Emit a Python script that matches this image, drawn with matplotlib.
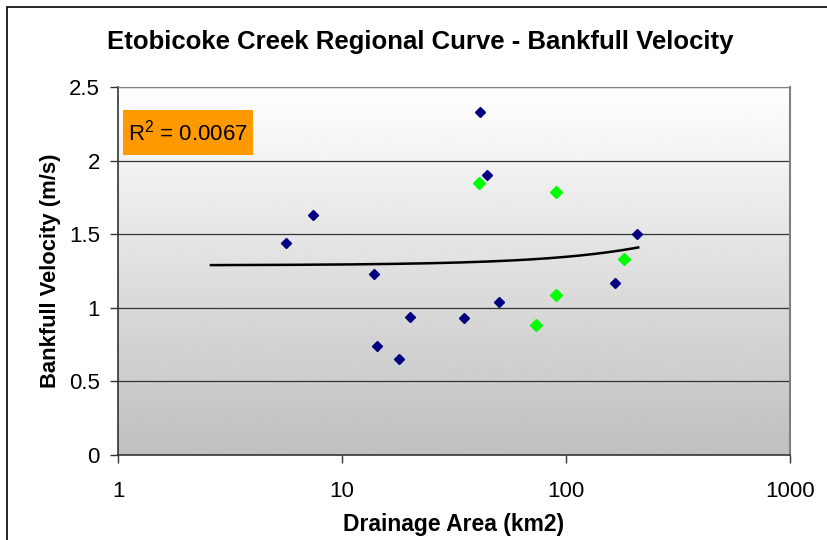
import numpy as np
import matplotlib.pyplot as plt
from matplotlib.patches import Rectangle
from matplotlib.ticker import FixedLocator, FixedFormatter, NullLocator

plt.rcParams['font.family'] = ['Liberation Sans', 'DejaVu Sans']
plt.rcParams['mathtext.fontset'] = 'custom'
plt.rcParams['mathtext.rm'] = 'Liberation Sans'

# blue series (drainage area km2, velocity m/s)
blue_area = [5.6, 7.4, 13.9, 14.3, 17.9, 20.1, 35.0, 41.3, 44.4, 50.0, 165, 208]
blue_vel = [1.44, 1.63, 1.23, 0.74, 0.65, 0.94, 0.93, 2.33, 1.90, 1.04, 1.17, 1.50]

# green series
green_area = [40.8, 73.3, 90.5, 90.5, 182]
green_vel = [1.85, 0.88, 1.79, 1.09, 1.33]

# linear trendline
trend_x = [2.6, 210]
trend_y = [1.290, 1.410]
r2_text = 'R$^2$ = 0.0067'

xticks = [1, 10, 100, 1000]
xlabels = ['1', '10', '100', '1000']
yticks = [0, 0.5, 1, 1.5, 2, 2.5]
ylabels = ['0', '0.5', '1', '1.5', '2', '2.5']

fig = plt.figure(figsize=(8.27, 5.4), dpi=100)
ax = fig.add_axes([118/827, 1-455/540, (790-118)/827, (455-87)/540])

# grey gradient plot area
grad = np.linspace(0.75, 1.0, 256).reshape(-1, 1)
ax.imshow(grad, cmap='gray', vmin=0, vmax=1, aspect='auto', origin='lower',
          extent=[0, 1, 0, 1], transform=ax.transAxes, zorder=0)

ax.set_xscale('log')
ax.set_xlim(1, 1000)
ax.set_ylim(0, 2.5)

for yv in yticks[1:]:
    ax.axhline(yv, color='#333333', lw=0.9, zorder=1)

# trendline is straight in linear x, so sample it along the log axis
tx = np.geomspace(trend_x[0], trend_x[1], 200)
ty = np.interp(tx, trend_x, trend_y)
ax.plot(tx, ty, color='black', lw=1.8, zorder=2)

ax.plot(blue_area, blue_vel, 'D', color='#000080', ms=4.8, mec='#000080', ls='none', zorder=3)
ax.plot(green_area, green_vel, 'D', color='#00FF00', ms=6.2, mec='#00FF00', ls='none', zorder=3)

ax.xaxis.set_major_locator(FixedLocator(xticks))
ax.xaxis.set_major_formatter(FixedFormatter(xlabels))
ax.xaxis.set_minor_locator(NullLocator())
ax.set_yticks(yticks)
ax.set_yticklabels(ylabels)
ax.tick_params(axis='both', direction='out', length=6, width=1, labelsize=16, color='#333333')
ax.tick_params(axis='y', pad=7)
ax.tick_params(axis='x', pad=13)

for side in ['left', 'bottom']:
    ax.spines[side].set_color('#333333')
    ax.spines[side].set_linewidth(1.2)
ax.spines['right'].set_color('#808080')
ax.spines['right'].set_linewidth(1.5)
ax.spines['top'].set_color('#808080')

# orange R2 box
ax.add_patch(Rectangle((0.0074, 0.8152), 0.1935, 0.1223, transform=ax.transAxes,
                       fc='#FF9900', ec='none', zorder=4))
ax.text(0.104, 0.876, r2_text, transform=ax.transAxes, fontsize=16, va='center', ha='center',
        zorder=5)

ax.set_xlabel('Drainage Area (km2)', fontsize=16.5, fontweight='bold', labelpad=8)
ax.set_ylabel('Bankfull Velocity (m/s)', fontsize=15.8, fontweight='bold', labelpad=6)
fig.text(420/827, 1-42/540, 'Etobicoke Creek Regional Curve - Bankfull Velocity',
         fontsize=18.5, fontweight='bold', ha='center', va='center')

# chart frame
fig.patches.append(Rectangle((7/827, -0.1), 1.2, 1.1 - 7/540, transform=fig.transFigure,
                             fill=False, ec='black', lw=1.2))

fig.savefig('out.png', dpi=100)
